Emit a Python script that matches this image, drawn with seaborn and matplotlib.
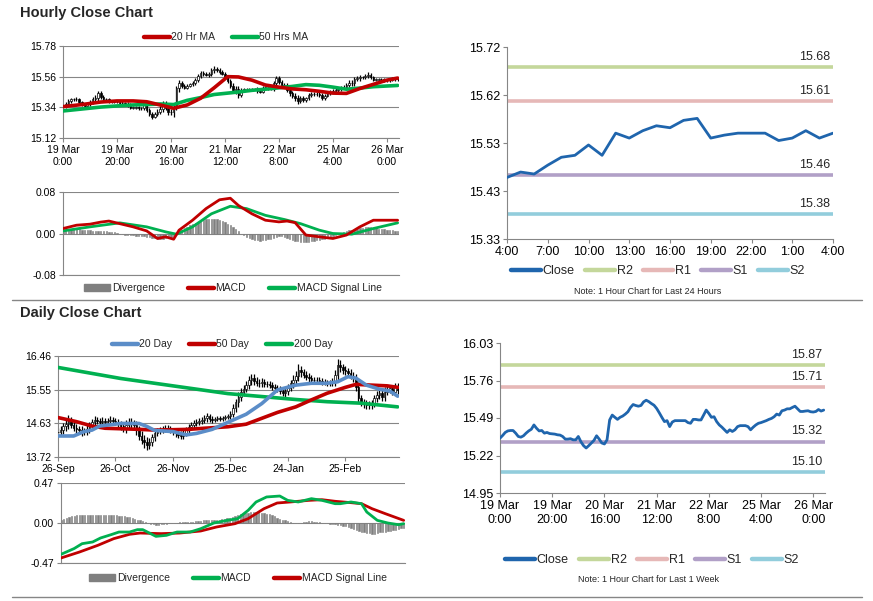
import numpy as np
import pandas as pd
import seaborn as sns
import matplotlib.pyplot as plt
from matplotlib.lines import Line2D
from matplotlib.patches import Patch

sns.set_style("white")
plt.rcParams['font.family'] = ['Liberation Sans', 'DejaVu Sans']

RED = "#C00000"
GREEN = "#00B050"
BLUE = "#5B8DC8"
CLOSE = "#1F65AD"
DIVG = "#7F7F7F"
AXIS = "#868686"

# ---------------- hourly data (19 Mar 0:00 -> 26 Mar) ----------------
hourly_ticks = [0, 20, 40, 60, 80, 100, 120]
hourly_labels = ["19 Mar\n0:00", "19 Mar\n20:00", "20 Mar\n16:00", "21 Mar\n12:00",
                 "22 Mar\n8:00", "25 Mar\n4:00", "26 Mar\n0:00"]

hourly_close = [15.345, 15.364, 15.386, 15.397, 15.400, 15.400, 15.381, 15.357, 15.352, 15.362,
                15.381, 15.397, 15.409, 15.440, 15.416, 15.397, 15.400, 15.381, 15.386, 15.378,
                15.376, 15.374, 15.369, 15.367, 15.357, 15.338, 15.338, 15.341, 15.333, 15.333,
                15.357, 15.319, 15.291, 15.274, 15.291, 15.310, 15.329, 15.362, 15.338, 15.310,
                15.303, 15.333, 15.476, 15.511, 15.495, 15.480, 15.495, 15.504, 15.518, 15.535,
                15.566, 15.587, 15.580, 15.575, 15.580, 15.606, 15.618, 15.608, 15.594, 15.582,
                15.559, 15.528, 15.495, 15.464, 15.471, 15.428, 15.461, 15.471, 15.471, 15.471,
                15.471, 15.471, 15.457, 15.452, 15.480, 15.480, 15.476, 15.476, 15.511, 15.547,
                15.523, 15.495, 15.499, 15.464, 15.440, 15.424, 15.405, 15.386, 15.405, 15.393,
                15.405, 15.428, 15.435, 15.435, 15.435, 15.428, 15.405, 15.424, 15.440, 15.452,
                15.457, 15.464, 15.471, 15.480, 15.487, 15.499, 15.518, 15.511, 15.542, 15.547,
                15.556, 15.556, 15.566, 15.575, 15.556, 15.537, 15.537, 15.540, 15.542, 15.535,
                15.533, 15.537, 15.551, 15.540, 15.547]

hourly_wick = [.010, .012, .015, .012, .010, .012, .010, .008, .010, .012,
               .012, .015, .018, .020, .015, .010, .010, .008, .008, .008,
               .008, .008, .008, .010, .012, .012, .010, .010, .012, .012,
               .012, .015, .015, .015, .012, .015, .020, .020, .020, .022,
               .020, .030, .015, .025, .015, .012, .012, .012, .012, .015,
               .015, .015, .012, .012, .015, .015, .018, .012, .012, .012,
               .012, .015, .015, .020, .025, .020, .015, .010, .010, .010,
               .010, .010, .012, .012, .012, .010, .010, .012, .020, .015,
               .015, .012, .012, .015, .020, .020, .020, .020, .015, .015,
               .012, .012, .012, .012, .015, .015, .015, .012, .012, .012,
               .012, .012, .012, .012, .012, .015, .015, .015, .015, .015,
               .015, .012, .012, .015, .012, .010, .010, .010, .010, .010,
               .010, .010, .010, .010, .010]

hourly_ma_idx = [0, 7, 14, 20, 26, 31, 36, 41, 46, 51, 56, 61, 65, 70, 75, 80, 85, 90, 95, 100,
                 105, 110, 115, 120, 124]
hourly_ma20 = [15.345, 15.36, 15.378, 15.386, 15.386, 15.38, 15.357, 15.333, 15.357, 15.405,
               15.48, 15.56, 15.558, 15.535, 15.50, 15.485, 15.472, 15.466, 15.455, 15.442,
               15.44, 15.475, 15.505, 15.535, 15.55]
hourly_ma50 = [15.314, 15.328, 15.342, 15.35, 15.357, 15.36, 15.364, 15.36, 15.39, 15.41,
               15.432, 15.442, 15.45, 15.462, 15.47, 15.48, 15.49, 15.503, 15.498, 15.485,
               15.47, 15.478, 15.488, 15.493, 15.497]

hourly_macd_idx = [0, 5, 10, 14, 17, 21, 26, 31, 35, 38, 41, 43, 48, 53, 58, 62, 65, 70, 75, 80,
                   83, 86, 90, 95, 100, 105, 110, 115, 120, 124]
hourly_macd = [0.0096, 0.016, 0.018, 0.022, 0.024, 0.019, 0.0128, 0.005, -0.0096, -0.0064,
               -0.011, 0.0064, 0.0256, 0.048, 0.065, 0.068, 0.054, 0.038, 0.0256, 0.0224,
               0.024, 0.021, -0.003, -0.0064, -0.0096, -0.003, 0.0128, 0.0256, 0.0256, 0.0256]
hourly_signal_idx = [0, 10, 21, 31, 38, 42, 48, 55, 62, 68, 75, 82, 88, 95, 100, 107, 115, 124]
hourly_signal = [0.005, 0.0128, 0.0205, 0.0128, 0.0032, -0.0013, 0.0128, 0.038, 0.0525, 0.048,
                 0.035, 0.027, 0.019, 0.0064, 0.0, -0.0013, 0.0096, 0.0205]
hourly_div = [.005, .006, .007, .007, .008, .008, .008, .007, .007, .006, .006,
              .005, .005, .005, .005, .004, .004, .003, .003, .002, .001,
              .000, -.001, -.002, -.002, -.003, -.003, -.004, -.004, -.005, -.005,
              -.006, -.007, -.008, -.009, -.010, -.011, -.010, -.009, -.008, -.006,
              -.004, -.001, .003, .007, .010, .013, .016, .019, .021, .023,
              .025, .026, .027, .028, .028, .028, .027, .026, .024, .022,
              .019, .016, .012, .008, .004, .000, -.003, -.006, -.009, -.011,
              -.012, -.013, -.014, -.013, -.012, -.011, -.010, -.009, -.007, -.005,
              -.005, -.006, -.008, -.010, -.012, -.014, -.015, -.016, -.017, -.017,
              -.016, -.015, -.014, -.013, -.012, -.011, -.010, -.008, -.007, -.005,
              -.003, -.001, .001, .003, .005, .006, .007, .008, .009, .010,
              .011, .012, .012, .012, .011, .010, .009, .009, .008, .007, .007, .006, .005, .005]

# ---------------- last 24 hours ----------------
day_labels = ["4:00", "7:00", "10:00", "13:00", "16:00", "19:00", "22:00", "1:00", "4:00"]
day_close = [15.455, 15.466, 15.462, 15.48, 15.496, 15.50, 15.521, 15.50, 15.545, 15.535,
             15.55, 15.56, 15.556, 15.571, 15.575, 15.535, 15.541, 15.545, 15.545, 15.545,
             15.53, 15.535, 15.55, 15.535, 15.545]

level_names = ["R2", "R1", "S1", "S2"]
level_colors = ["#C4D79B", "#E6B8B7", "#B1A0C7", "#92CDDC"]
day_levels = [15.68, 15.61, 15.46, 15.38]
week_levels = [15.87, 15.71, 15.32, 15.10]

# ---------------- daily data ----------------
daily_ticks = [0, 22, 44, 66, 88, 110]
daily_labels = ["26-Sep", "26-Oct", "26-Nov", "25-Dec", "24-Jan", "25-Feb"]

daily_close = [14.40, 14.45, 14.55, 14.62, 14.70, 14.60, 14.52, 14.48, 14.45, 14.40,
               14.42, 14.48, 14.58, 14.68, 14.72, 14.70, 14.66, 14.70, 14.67, 14.71,
               14.73, 14.69, 14.66, 14.61, 14.56, 14.50, 14.60, 14.68, 14.62, 14.58,
               14.45, 14.30, 14.18, 14.12, 14.05, 14.12, 14.25, 14.38, 14.42, 14.45,
               14.48, 14.50, 14.47, 14.44, 14.40, 14.36, 14.33, 14.30, 14.38, 14.46,
               14.53, 14.60, 14.64, 14.68, 14.70, 14.73, 14.78, 14.82, 14.76, 14.72,
               14.75, 14.77, 14.76, 14.78, 14.80, 14.82, 14.90, 15.05, 15.20, 15.35,
               15.48, 15.57, 15.68, 15.80, 15.86, 15.78, 15.74, 15.72, 15.75, 15.71,
               15.70, 15.67, 15.62, 15.58, 15.56, 15.52, 15.45, 15.50, 15.60, 15.72,
               15.82, 15.92, 16.08, 16.02, 15.95, 15.90, 15.86, 15.82, 15.80, 15.81,
               15.78, 15.76, 15.74, 15.72, 15.74, 15.77, 15.95, 16.22, 16.15, 16.08,
               16.04, 16.00, 15.93, 15.86, 15.63, 15.31, 15.20, 15.16, 15.13, 15.12,
               15.17, 15.31, 15.40, 15.45, 15.35, 15.49, 15.55, 15.58, 15.49, 15.62,
               15.54]

daily_wick = [.10, .12, .10, .12, .15, .10, .10, .10, .08, .10,
              .08, .10, .10, .08, .10, .08, .08, .10, .08, .08,
              .10, .08, .08, .08, .10, .10, .12, .10, .10, .10,
              .12, .12, .12, .15, .15, .12, .10, .10, .08, .08,
              .08, .08, .08, .08, .08, .10, .10, .10, .08, .08,
              .08, .08, .08, .08, .08, .08, .08, .10, .08, .08,
              .06, .06, .06, .06, .06, .06, .08, .10, .10, .12,
              .10, .10, .10, .12, .12, .10, .10, .10, .10, .08,
              .08, .08, .08, .08, .08, .08, .08, .10, .10, .10,
              .12, .12, .15, .12, .10, .10, .10, .08, .08, .08,
              .08, .08, .08, .08, .08, .10, .12, .15, .12, .10,
              .10, .10, .10, .10, .12, .12, .10, .10, .10, .10,
              .10, .10, .10, .10, .12, .12, .10, .10, .10, .10, .10]

daily_ma20_idx = [0, 6, 10, 13, 16, 24, 31, 34, 37, 44, 49, 53, 59, 65, 72, 78, 84, 91, 97, 103,
                  107, 111, 114, 118, 123, 127, 130]
daily_ma20 = [14.29, 14.29, 14.41, 14.45, 14.56, 14.63, 14.63, 14.55, 14.44, 14.41,
              14.32, 14.36, 14.47, 14.66, 14.88, 15.17, 15.54, 15.67, 15.72, 15.72,
              15.76, 15.90, 15.86, 15.67, 15.56, 15.51, 15.37]
daily_ma50_idx = [0, 7, 13, 18, 31, 37, 50, 56, 65, 72, 78, 84, 91, 97, 103, 110, 114, 120, 126, 130]
daily_ma50 = [14.79, 14.68, 14.56, 14.50, 14.47, 14.45, 14.47, 14.50, 14.54, 14.61,
              14.77, 14.93, 15.08, 15.27, 15.45, 15.61, 15.69, 15.67, 15.65, 15.61]
daily_ma200_idx = [0, 12, 24, 34, 44, 55, 65, 78, 91, 103, 116, 130]
daily_ma200 = [16.15, 16.0, 15.85, 15.75, 15.65, 15.54, 15.44, 15.36, 15.28, 15.22, 15.18, 15.08]

daily_macd_idx = [0, 5, 8, 12, 15, 19, 22, 26, 29, 31, 34, 36, 40, 44, 49, 53, 58, 63, 67, 71,
                  74, 78, 83, 86, 90, 95, 99, 104, 106, 110, 114, 116, 120, 124, 128, 130]
daily_macd = [-0.368, -0.30, -0.243, -0.223, -0.176, -0.137, -0.106, -0.106, -0.078, -0.078,
              -0.125, -0.157, -0.145, -0.106, -0.106, -0.067, 0.0, 0.031, 0.051, 0.149,
              0.247, 0.306, 0.317, 0.266, 0.247, 0.286, 0.266, 0.227, 0.227, 0.247,
              0.227, 0.129, 0.031, 0.0, -0.02, -0.008]
daily_signal_idx = [0, 7, 14, 20, 26, 30, 38, 45, 53, 59, 66, 71, 77, 82, 87, 94, 99, 104, 110,
                    114, 118, 123, 130]
daily_signal = [-0.411, -0.341, -0.262, -0.184, -0.133, -0.118, -0.125, -0.118, -0.094, -0.047,
                -0.008, 0.051, 0.168, 0.235, 0.247, 0.266, 0.274, 0.255, 0.239, 0.227,
                0.168, 0.11, 0.031]
daily_div = [.03, .05, .06, .07, .08, .08, .09, .09, .09, .09,
             .09, .09, .09, .09, .09, .09, .09, .09, .09, .09,
             .09, .09, .08, .08, .08, .07, .07, .06, .05, .04,
             .03, .02, .01, .00, -.01, -.01, -.02, -.02, -.01, -.01,
             -.01, .00, .00, .00, .00, .01, .01, .01, .01, .01,
             .01, .02, .02, .02, .03, .03, .03, .03, .03, .04,
             .04, .05, .05, .06, .06, .07, .08, .09, .10, .11,
             .12, .12, .13, .13, .13, .13, .12, .12, .11, .10,
             .09, .08, .06, .05, .04, .03, .02, .01, .00, .00,
             .00, .00, .01, .01, .02, .02, .01, .01, .01, .00,
             .00, .00, -.01, -.01, -.01, -.02, -.02, -.03, -.04, -.05,
             -.06, -.07, -.08, -.09, -.10, -.11, -.12, -.12, -.13, -.13,
             -.12, -.11, -.10, -.10, -.09, -.09, -.08, -.08, -.07, -.06, -.06]


def style_axes(ax, size, grid=True):
    for s in ["top", "right"]:
        ax.spines[s].set_visible(False)
    for s in ["left", "bottom"]:
        ax.spines[s].set_color(AXIS)
        ax.spines[s].set_linewidth(0.8)
    if grid:
        ax.grid(True, axis="y", color=AXIS, lw=0.8)
    ax.set_axisbelow(True)
    ax.tick_params(left=True, bottom=True, length=3, width=0.8, color=AXIS,
                   labelsize=size, labelcolor="black", pad=2)
    ax.set_xlabel("")
    ax.set_ylabel("")


def draw_candles(ax, close, wick):
    opens = [close[0]] + close[:-1]
    x = np.arange(len(close))
    lo = np.minimum(opens, close)
    hi = np.maximum(opens, close)
    ax.vlines(x, lo - np.array(wick), hi + np.array(wick), color="black", lw=0.9, zorder=2)
    fills = ["white" if c >= o else "black" for o, c in zip(opens, close)]
    ax.bar(x, np.maximum(hi - lo, 0.003), bottom=lo, width=0.6, color=fills,
           edgecolor="black", lw=0.5, zorder=3)


def draw_divergence(ax, div):
    ax.bar(np.arange(len(div)), div, width=0.5, color=DIVG, edgecolor=DIVG, lw=0.4, zorder=2)


def line_legend(fig, items, center, size, hl=2.5, cs=1.6):
    handles = []
    for name, col, kind in items:
        if kind == "bar":
            handles.append(Patch(facecolor=col, edgecolor=col, label=name))
        else:
            handles.append(Line2D([], [], color=col, lw=3.2, label=name))
    fig.legend(handles=handles, loc="center", bbox_to_anchor=center, ncol=len(items),
               frameon=False, fontsize=size, handlelength=hl, handleheight=0.6,
               handletextpad=0.15, columnspacing=cs, borderaxespad=0, borderpad=0)


W, H = 873, 601
fig = plt.figure(figsize=(8.73, 6.01), dpi=100)


def add_ax(x0, y0, x1, y1):
    return fig.add_axes([x0 / W, 1 - y1 / H, (x1 - x0) / W, (y1 - y0) / H])


fig.text(20 / W, 1 - 13 / H, "Hourly Close Chart", fontsize=10.5, weight="bold", va="center")
fig.text(20 / W, 1 - 313 / H, "Daily Close Chart", fontsize=10.5, weight="bold", va="center")
for yy in [300, 597]:
    fig.add_artist(Line2D([12 / W, 862 / W], [1 - yy / H] * 2, color=AXIS, lw=1))

# ---- hourly candles ----
ax1 = add_ax(63, 46, 399, 138)
draw_candles(ax1, hourly_close, hourly_wick)
sns.lineplot(x=hourly_ma_idx, y=hourly_ma50, ax=ax1, color=GREEN, lw=2.6, zorder=4)
sns.lineplot(x=hourly_ma_idx, y=hourly_ma20, ax=ax1, color=RED, lw=2.6, zorder=5)
ax1.set_xlim(0, 124.5)
ax1.set_ylim(15.12, 15.78)
ax1.set_yticks([15.12, 15.34, 15.56, 15.78])
ax1.set_yticklabels(["15.12", "15.34", "15.56", "15.78"])
ax1.set_xticks(hourly_ticks)
ax1.set_xticklabels(hourly_labels)
style_axes(ax1, 7.5)
line_legend(fig, [("20 Hr MA", RED, "line"), ("50 Hrs MA", GREEN, "line")],
            (226 / W, 1 - 37 / H), 7.5)

# ---- hourly MACD ----
ax2 = add_ax(63, 192, 399, 275)
draw_divergence(ax2, hourly_div)
sns.lineplot(x=hourly_signal_idx, y=hourly_signal, ax=ax2, color=GREEN, lw=2, zorder=3)
sns.lineplot(x=hourly_macd_idx, y=hourly_macd, ax=ax2, color=RED, lw=2, zorder=4)
ax2.set_xlim(0, 124.5)
ax2.set_ylim(-0.08, 0.08)
ax2.set_yticks([-0.08, 0.0, 0.08])
ax2.set_yticklabels(["-0.08", "0.00", "0.08"])
ax2.set_xticks([])
style_axes(ax2, 7.5)
line_legend(fig, [("Divergence", DIVG, "bar"), ("MACD", RED, "line"),
                  ("MACD Signal Line", GREEN, "line")], (233 / W, 1 - 288 / H), 7.5, cs=2.2)

# ---- last 24 hours ----
ax3 = add_ax(507, 47, 833, 239)
for name, col, val in zip(level_names, level_colors, day_levels):
    ax3.axhline(val, color=col, lw=2.6, zorder=2)
    ax3.annotate(f"{val:.2f}", xy=(1, val), xycoords=("axes fraction", "data"),
                 xytext=(-2, 3), textcoords="offset points", ha="right", va="bottom", fontsize=9)
sns.lineplot(x=np.arange(len(day_close)), y=day_close, ax=ax3, color=CLOSE, lw=2, zorder=3)
ax3.set_xlim(0, 24)
ax3.set_ylim(15.33, 15.72)
ax3.set_yticks(np.linspace(15.33, 15.72, 5))
ax3.set_yticklabels(["15.33", "15.43", "15.53", "15.62", "15.72"])
ax3.set_xticks(range(0, 25, 3))
ax3.set_xticklabels(day_labels)
style_axes(ax3, 9, grid=False)
line_legend(fig, [("Close", CLOSE, "line")] + [(n, c, "line") for n, c in zip(level_names, level_colors)],
            (658 / W, 1 - 271 / H), 9, hl=2.4, cs=0.8)
fig.text(648 / W, 1 - 291 / H, "Note: 1 Hour Chart for Last 24 Hours", fontsize=6.5,
         ha="center", va="center")

# ---- daily candles ----
ax4 = add_ax(58, 356, 399, 457)
draw_candles(ax4, daily_close, daily_wick)
sns.lineplot(x=daily_ma200_idx, y=daily_ma200, ax=ax4, color=GREEN, lw=2.6, zorder=4)
sns.lineplot(x=daily_ma50_idx, y=daily_ma50, ax=ax4, color=RED, lw=2.6, zorder=5)
sns.lineplot(x=daily_ma20_idx, y=daily_ma20, ax=ax4, color=BLUE, lw=2.6, zorder=6)
ax4.set_xlim(0, 130.5)
ax4.set_ylim(13.72, 16.46)
ax4.set_yticks(np.linspace(13.72, 16.46, 4))
ax4.set_yticklabels(["13.72", "14.63", "15.55", "16.46"])
ax4.set_xticks(daily_ticks)
ax4.set_xticklabels(daily_labels)
style_axes(ax4, 7.5)
line_legend(fig, [("20 Day", BLUE, "line"), ("50 Day", RED, "line"), ("200 Day", GREEN, "line")],
            (222 / W, 1 - 344 / H), 7.5)

# ---- daily MACD ----
ax5 = add_ax(61, 483, 405, 563)
draw_divergence(ax5, daily_div)
sns.lineplot(x=daily_signal_idx, y=daily_signal, ax=ax5, color=RED, lw=2, zorder=3)
sns.lineplot(x=daily_macd_idx, y=daily_macd, ax=ax5, color=GREEN, lw=2, zorder=4)
ax5.set_xlim(0, 130.5)
ax5.set_ylim(-0.47, 0.47)
ax5.set_yticks([-0.47, 0.0, 0.47])
ax5.set_yticklabels(["-0.47", "0.00", "0.47"])
ax5.set_xticks([])
style_axes(ax5, 7.5)
line_legend(fig, [("Divergence", DIVG, "bar"), ("MACD", GREEN, "line"),
                  ("MACD Signal Line", RED, "line")], (238 / W, 1 - 578 / H), 7.5, cs=2.2)

# ---- last week hourly close ----
ax6 = add_ax(500, 343, 825, 493)
for name, col, val in zip(level_names, level_colors, week_levels):
    ax6.axhline(val, color=col, lw=2.6, zorder=2)
    ax6.annotate(f"{val:.2f}", xy=(1, val), xycoords=("axes fraction", "data"),
                 xytext=(-2, 3), textcoords="offset points", ha="right", va="bottom", fontsize=9)
sns.lineplot(x=np.arange(len(hourly_close)), y=hourly_close, ax=ax6, color=CLOSE, lw=2, zorder=3)
ax6.set_xlim(0, 124.5)
ax6.set_ylim(14.95, 16.03)
ax6.set_yticks(np.linspace(14.95, 16.03, 5))
ax6.set_yticklabels(["14.95", "15.22", "15.49", "15.76", "16.03"])
ax6.set_xticks(hourly_ticks)
ax6.set_xticklabels(hourly_labels)
style_axes(ax6, 9, grid=False)
line_legend(fig, [("Close", CLOSE, "line")] + [(n, c, "line") for n, c in zip(level_names, level_colors)],
            (652 / W, 1 - 560 / H), 9, hl=2.4, cs=0.8)
fig.text(648 / W, 1 - 580 / H, "Note: 1 Hour Chart for Last 1 Week", fontsize=6.5,
         ha="center", va="center")

fig.savefig("out.png", dpi=100)
